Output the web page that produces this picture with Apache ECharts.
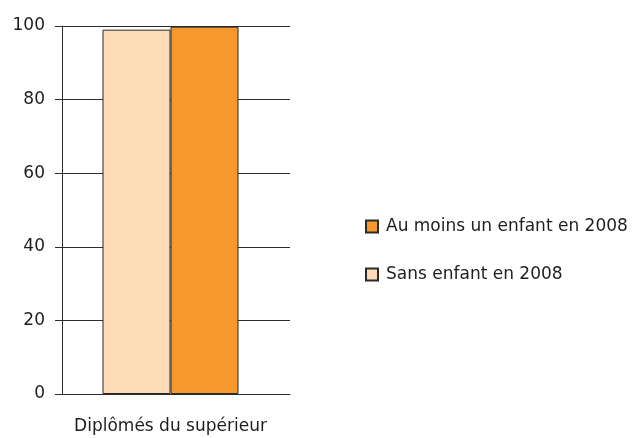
<!DOCTYPE html>
<html>
<head>
<meta charset="utf-8">
<script src="https://cdn.jsdelivr.net/npm/echarts@6/dist/echarts.min.js"></script>
<style>
  html, body { margin: 0; padding: 0; background: #fff; }
  #chart { width: 636px; height: 438px; }
</style>
</head>
<body>
<div id="chart"></div>
<script>
// données
const categories = ['Diplômés du supérieur']
const seriesNames = ['Sans enfant en 2008', 'Au moins un enfant en 2008']
const sansEnfant = [99.0]
const auMoinsUn = [99.8]
const yTicks = [0, 20, 40, 60, 80, 100]

const font = 'DejaVu Sans'
const lineColor = '#2b2b2b'

let option = {
  animation: false,
  textStyle: { fontFamily: font },
  // grid 0 : axe des y et lignes de grille, grid 1 : barres et libellé
  grid: [
    { left: 62, right: 346, top: 26, bottom: 44 },
    { left: 62, right: 357, top: 26, bottom: 44 }
  ],
  legend: {
    orient: 'vertical',
    left: 360,
    top: 213,
    itemWidth: 12,
    itemHeight: 12,
    itemGap: 31,
    icon: 'rect',
    data: [seriesNames[1], seriesNames[0]],
    textStyle: { fontFamily: font, fontSize: 17, color: '#1e1e1e', padding: [0, 0, 0, 3] }
  },
  xAxis: [
    {
      gridIndex: 0,
      type: 'category',
      data: categories,
      axisLine: { lineStyle: { color: lineColor } },
      axisTick: { show: false },
      axisLabel: { show: false }
    },
    {
      gridIndex: 1,
      type: 'category',
      data: categories,
      axisLine: { show: false },
      axisTick: { show: false },
      axisLabel: { margin: 24, fontFamily: font, fontSize: 17, color: '#1e1e1e' }
    }
  ],
  yAxis: [
    {
      gridIndex: 0,
      type: 'value',
      min: yTicks[0],
      max: yTicks[yTicks.length - 1],
      interval: 20,
      axisLine: { show: true, lineStyle: { color: lineColor } },
      axisTick: { show: true, length: 7, lineStyle: { color: lineColor } },
      axisLabel: { margin: 17, fontFamily: font, fontSize: 17, color: '#1e1e1e' },
      splitLine: { lineStyle: { color: lineColor, width: 1 } }
    },
    {
      gridIndex: 1,
      type: 'value',
      min: yTicks[0],
      max: yTicks[yTicks.length - 1],
      interval: 20,
      show: false
    }
  ],
  series: [
    {
      name: seriesNames[0],
      type: 'bar',
      xAxisIndex: 1,
      yAxisIndex: 1,
      data: sansEnfant,
      barWidth: 68,
      barGap: '0%',
      itemStyle: { color: '#FDDBB6', borderColor: '#2b2b2b', borderWidth: 1 }
    },
    {
      name: seriesNames[1],
      type: 'bar',
      xAxisIndex: 1,
      yAxisIndex: 1,
      data: auMoinsUn,
      barWidth: 68,
      barGap: '0%',
      itemStyle: { color: '#F7982C', borderColor: '#2b2b2b', borderWidth: 1 }
    }
  ]
}

var myChart = echarts.init(document.getElementById('chart'))
myChart.setOption(option)
</script>
</body>
</html>
